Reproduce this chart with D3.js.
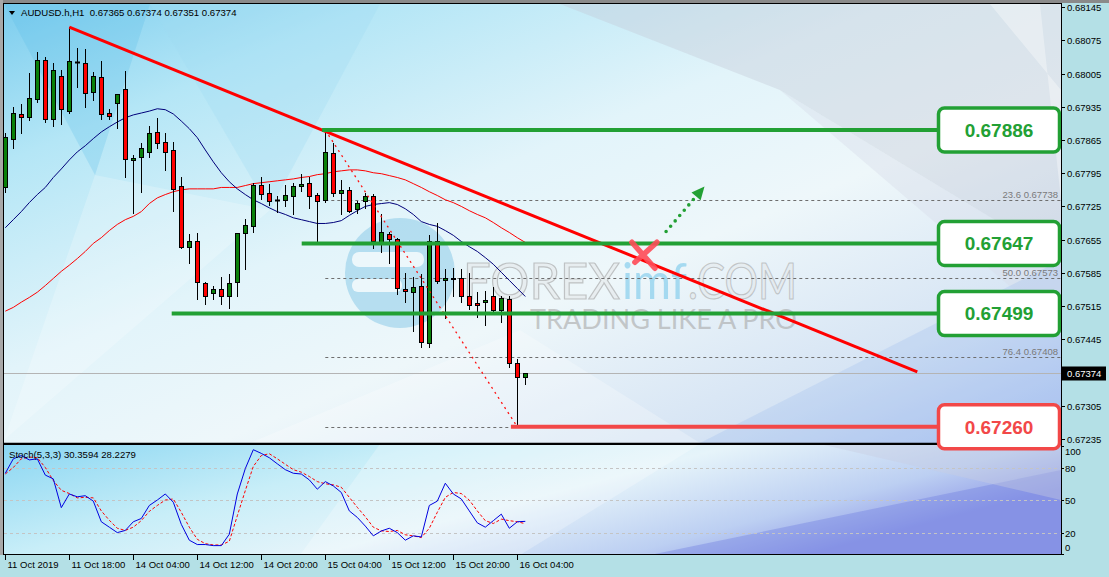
<!DOCTYPE html>
<html><head><meta charset="utf-8">
<script src="https://cdn.jsdelivr.net/npm/d3@7/dist/d3.min.js"></script>
<style>
html,body{margin:0;padding:0;background:#b4e0e6;overflow:hidden;}
svg{display:block;font-family:"Liberation Sans",Arial,sans-serif;}
text{white-space:pre;}
</style></head><body>
<svg id="c" width="1109" height="577"></svg>
<script>
// ---------------- data ----------------
const symbolTitle = "AUDUSD.h,H1  0.67365 0.67374 0.67351 0.67374";
const stochTitle = "Stoch(5,3,3) 30.3594 28.2279";
const timeLabels = ["11 Oct 2019","11 Oct 18:00","14 Oct 04:00","14 Oct 12:00","14 Oct 20:00","15 Oct 04:00","15 Oct 12:00","15 Oct 20:00","16 Oct 04:00"];
const timeLabelBars = [0,8,16,24,32,40,48,56,64];
const priceTicks = [0.68145,0.68075,0.68005,0.67935,0.67865,0.67795,0.67725,0.67655,0.67585,0.67515,0.67445,0.67305,0.67235];
const stochTicks = [100,80,50,20,0];
const stochLevels = [80,50,20];

const open  = [0.67765,0.67868,0.67920,0.67914,0.67952,0.68034,0.67910,0.68000,0.67926,0.68029,0.68027,0.67966,0.67998,0.67922,0.67943,0.67973,0.67823,0.67830,0.67840,0.67882,0.67861,0.67844,0.67767,0.67640,0.67651,0.67563,0.67542,0.67550,0.67535,0.67565,0.67668,0.67683,0.67771,0.67754,0.67738,0.67739,0.67746,0.67769,0.67775,0.67750,0.67739,0.67838,0.67754,0.67760,0.67720,0.67737,0.67746,0.67649,0.67666,0.67657,0.67550,0.67544,0.67558,0.67437,0.67651,0.67569,0.67575,0.67573,0.67535,0.67521,0.67523,0.67535,0.67506,0.67529,0.67395,0.67365];
const high  = [0.67880,0.67935,0.67941,0.68006,0.68050,0.68040,0.68027,0.68013,0.68103,0.68059,0.68057,0.68008,0.68031,0.67931,0.67962,0.68010,0.67834,0.67859,0.67895,0.67912,0.67880,0.67861,0.67786,0.67666,0.67668,0.67565,0.67558,0.67577,0.67582,0.67668,0.67699,0.67775,0.67786,0.67773,0.67746,0.67771,0.67775,0.67794,0.67788,0.67754,0.67886,0.67859,0.67781,0.67765,0.67737,0.67754,0.67752,0.67708,0.67672,0.67659,0.67584,0.67577,0.67582,0.67664,0.67689,0.67594,0.67596,0.67594,0.67584,0.67544,0.67546,0.67556,0.67535,0.67535,0.67403,0.67374];
const low   = [0.67756,0.67849,0.67880,0.67908,0.67945,0.67903,0.67895,0.67899,0.67922,0.67977,0.67935,0.67949,0.67910,0.67910,0.67891,0.67788,0.67712,0.67756,0.67830,0.67849,0.67802,0.67716,0.67638,0.67605,0.67529,0.67519,0.67529,0.67519,0.67510,0.67535,0.67594,0.67670,0.67741,0.67727,0.67714,0.67725,0.67708,0.67758,0.67722,0.67649,0.67735,0.67746,0.67708,0.67714,0.67712,0.67722,0.67638,0.67628,0.67605,0.67540,0.67523,0.67462,0.67428,0.67428,0.67563,0.67489,0.67535,0.67523,0.67508,0.67491,0.67474,0.67502,0.67481,0.67386,0.67260,0.67351];
const close = [0.67872,0.67922,0.67914,0.67954,0.68034,0.67910,0.68013,0.67931,0.68031,0.68029,0.67964,0.68000,0.67920,0.67916,0.67962,0.67825,0.67828,0.67849,0.67880,0.67859,0.67840,0.67762,0.67640,0.67651,0.67565,0.67535,0.67550,0.67537,0.67563,0.67668,0.67685,0.67771,0.67752,0.67737,0.67738,0.67750,0.67769,0.67773,0.67748,0.67737,0.67840,0.67754,0.67760,0.67716,0.67733,0.67746,0.67651,0.67670,0.67657,0.67552,0.67546,0.67556,0.67439,0.67651,0.67567,0.67573,0.67571,0.67535,0.67517,0.67517,0.67527,0.67506,0.67531,0.67395,0.67365,0.67374];

const maFast = [0.67680,0.67697,0.67714,0.67733,0.67750,0.67765,0.67786,0.67804,0.67823,0.67840,0.67853,0.67868,0.67882,0.67893,0.67903,0.67912,0.67918,0.67922,0.67926,0.67931,0.67929,0.67920,0.67905,0.67889,0.67870,0.67844,0.67819,0.67796,0.67777,0.67762,0.67750,0.67739,0.67731,0.67722,0.67714,0.67708,0.67701,0.67697,0.67693,0.67689,0.67689,0.67691,0.67695,0.67706,0.67716,0.67725,0.67729,0.67731,0.67733,0.67729,0.67720,0.67708,0.67693,0.67687,0.67683,0.67674,0.67664,0.67651,0.67640,0.67630,0.67617,0.67603,0.67586,0.67569,0.67552,0.67535];
const maSlow = [0.67504,0.67512,0.67523,0.67533,0.67544,0.67558,0.67573,0.67588,0.67601,0.67615,0.67630,0.67647,0.67659,0.67674,0.67687,0.67697,0.67704,0.67714,0.67731,0.67743,0.67750,0.67756,0.67760,0.67762,0.67762,0.67762,0.67762,0.67765,0.67765,0.67765,0.67769,0.67773,0.67775,0.67777,0.67779,0.67781,0.67783,0.67786,0.67788,0.67792,0.67794,0.67798,0.67800,0.67802,0.67802,0.67800,0.67796,0.67794,0.67790,0.67786,0.67781,0.67773,0.67765,0.67756,0.67748,0.67739,0.67733,0.67725,0.67716,0.67708,0.67701,0.67691,0.67680,0.67670,0.67659,0.67649];

const stochK = [74.7,88,91,87,88,73,69.5,43,55.6,53,54,49,30,25,20,22,30,33,45,50,55.6,48,27.6,13,9,9,8,8,18.5,55.6,79,96.4,93,89,83.4,78,74.7,74,68.6,60,67,63,57,40,34,26,17,21.5,24,20,13,17,16,45,49,65.5,55.6,51,40,29,25,31,37,24,30,30.36];
const stochD = [74,80,88,89.6,89,80,68,59,56,52,52.5,52,40,31.4,24,22,25,31,39.6,45,50,51,38.7,25,13.8,9.8,8.6,8.6,12,35.5,58.7,81,91,92.7,88,83,78,75.7,71.7,67,65,64,61.8,52.5,43.3,34.6,25,21.6,21,22,18,17,15.4,24,38.7,52.5,57,56,50,40,31,28.4,32.4,31,30,28.23];

const currentPrice = 0.67374;
// drawn objects (bar index / price anchors)
const trendBars = [8,114];
const trendPrices = [0.68103,0.67376];
const levelPrices = [0.67886,0.67647,0.67499];
const levelStartBars = [39.6,37.05,20.8];
const supportPrice = 0.67260;
const supportStartBar = 63.2;
const levelLabels = ["0.67886","0.67647","0.67499"];
const supportLabel = "0.67260";
const fibBars = [40,64];
const fibLevelNames = ["0.0","23.6","50.0","76.4","100.0"];
const fibLevelPrices = [0.67886,0.67738,0.67573,0.67408,0.67260];
const fibLabelShown = [false,true,true,true,false]; // 0.0 and 100.0 labels sit under the boxes
const crossBar = 79.7, crossPrice = 0.67622;
const arrowBars = [82.6,87.4];
const arrowPrices = [0.67672,0.67767];

// ---------------- layout ----------------
const L=4, R=1061, T=4, MB=443, ST=444, SB=555;
const GREEN="#22a034", RED="#f24848";
const svg=d3.select('#c');
const x=d3.scaleLinear().domain([0,1]).range([5.3,13.3]);
const y=d3.scaleLinear().domain([0.67235,0.68145]).range([438.7,7.3]);
const ys=d3.scaleLinear().domain([0,100]).range([554.3,445.8]);
const px=v=>Math.round(x(v));

const defs=svg.append('defs');
const gm=defs.append('linearGradient').attr('id','bgm').attr('x1',0).attr('y1',0).attr('x2',1).attr('y2',1);
[[0,'#7ccdee'],[0.18,'#b4e6f6'],[0.42,'#e2f4fa'],[0.6,'#eef7fa'],[0.82,'#d6e4f4'],[1,'#aec4f0']].forEach(s=>gm.append('stop').attr('offset',s[0]).attr('stop-color',s[1]));
const gs=defs.append('linearGradient').attr('id','bgs').attr('x1',0).attr('y1',0).attr('x2',1).attr('y2',0.4);
[[0,'#8ad6f2'],[0.35,'#c8eef8'],[0.6,'#e6f4fa'],[0.85,'#bccff2'],[1,'#949fe8']].forEach(s=>gs.append('stop').attr('offset',s[0]).attr('stop-color',s[1]));
defs.append('clipPath').attr('id','cm').append('rect').attr('x',L).attr('y',T).attr('width',R-L).attr('height',MB-T);
defs.append('clipPath').attr('id','cs').append('rect').attr('x',L).attr('y',ST).attr('width',R-L).attr('height',SB-ST);

// outer frame
svg.append('rect').attr('width',1109).attr('height',577).attr('fill','#b4e0e6');
svg.append('rect').attr('x',0).attr('y',0).attr('width',1109).attr('height',3).attr('fill','#8a8a8a');
svg.append('rect').attr('x',0).attr('y',0).attr('width',3).attr('height',SB).attr('fill','#a8a8a8');

// backgrounds
svg.append('rect').attr('x',L).attr('y',T).attr('width',R-L).attr('height',MB-T).attr('fill','url(#bgm)');
svg.append('rect').attr('x',L).attr('y',ST).attr('width',R-L).attr('height',SB-ST).attr('fill','url(#bgs)');
const deco=svg.append('g').attr('clip-path','url(#cm)');
const polys=[
 {p:[[4,4],[150,4],[95,175]],f:'#58bde6',o:0.25},
 {p:[[95,175],[270,210],[4,440]],f:'#ffffff',o:0.22},
 {p:[[150,4],[380,4],[270,210]],f:'#9fdcf2',o:0.3},
 {p:[[560,4],[1061,4],[1061,260],[780,90]],f:'#c2c8d4',o:0.38},
 {p:[[780,90],[1061,260],[1061,330]],f:'#d8dde8',o:0.4},
 {p:[[990,4],[1040,4],[1061,200],[1061,90]],f:'#ffffff',o:0.35},
 {p:[[700,443],[1061,260],[1061,443]],f:'#8cb0ee',o:0.22},
 {p:[[250,443],[520,330],[700,443]],f:'#ffffff',o:0.25}
];
deco.selectAll('polygon').data(polys).join('polygon').attr('points',d=>d.p.join(' ')).attr('fill',d=>d.f).attr('opacity',d=>d.o);
const decoS=svg.append('g').attr('clip-path','url(#cs)');
decoS.append('polygon').attr('points','380,444 700,444 520,555 300,555').attr('fill','#ffffff').attr('opacity',0.25);
decoS.append('polygon').attr('points','650,555 1061,470 1061,555').attr('fill','#7080e0').attr('opacity',0.4);
decoS.append('polygon').attr('points','820,444 1061,444 1061,500').attr('fill','#c8cce0').attr('opacity',0.4);

// watermark
const wm=svg.append('g').attr('clip-path','url(#cm)');
wm.append('circle').attr('cx',400).attr('cy',273).attr('r',55).attr('fill','#8ccbe8').attr('opacity',0.55);
wm.append('rect').attr('x',352).attr('y',252).attr('width',72).attr('height',15).attr('rx',7).attr('fill','#ffffff').attr('opacity',0.75);
wm.append('rect').attr('x',352).attr('y',279).attr('width',50).attr('height',13).attr('rx',6).attr('fill','#ffffff').attr('opacity',0.75);
wm.append('text').attr('x',463).attr('y',299).attr('font-family','Lato, "DejaVu Sans", sans-serif').attr('font-size',50).attr('textLength',157).attr('lengthAdjust','spacingAndGlyphs')
  .attr('fill','#e4e8ea').attr('fill-opacity',0.6).attr('stroke','#9a9a9a').attr('stroke-opacity',0.55).attr('stroke-width',1.2).text('FOREX');
wm.append('text').attr('x',622).attr('y',299).attr('font-family','Lato, "DejaVu Sans", sans-serif').attr('font-size',50).attr('textLength',65).attr('lengthAdjust','spacingAndGlyphs')
  .attr('fill','#6cc2ea').attr('fill-opacity',0.55).text('imf');
wm.append('text').attr('x',688).attr('y',299).attr('font-family','Lato, "DejaVu Sans", sans-serif').attr('font-size',50).attr('textLength',109).attr('lengthAdjust','spacingAndGlyphs')
  .attr('fill','#e4e8ea').attr('fill-opacity',0.55).attr('stroke','#9a9a9a').attr('stroke-opacity',0.5).attr('stroke-width',1.2).text('.COM');
wm.append('text').attr('x',530).attr('y',329).attr('font-family','Lato, "DejaVu Sans", sans-serif').attr('font-size',26).attr('textLength',267).attr('lengthAdjust','spacingAndGlyphs')
  .attr('fill','#a8a8a8').attr('fill-opacity',0.6).text('TRADING LIKE A PRO');

// main chart content
const main=svg.append('g').attr('clip-path','url(#cm)');

// fib horizontal levels
const fib=main.append('g');
fibLevelPrices.forEach((p,i)=>{
  const yy=Math.round(y(p))+0.5;
  fib.append('line').attr('x1',x(fibBars[0])).attr('x2',R).attr('y1',yy).attr('y2',yy).attr('stroke','#6e6e6e').attr('stroke-dasharray','3,3');
  if(fibLabelShown[i]) fib.append('text').attr('x',1058).attr('y',yy-3).attr('text-anchor','end').attr('font-size',9.5).attr('fill','#7a7a7a').text(fibLevelNames[i]+' '+p.toFixed(5));
});

// current price line
main.append('line').attr('x1',L).attr('x2',R).attr('y1',Math.round(y(currentPrice))+0.5).attr('y2',Math.round(y(currentPrice))+0.5).attr('stroke','#b4b4b4');

// moving averages
const idx=d3.range(open.length);
main.append('path').attr('d',d3.line().x(i=>x(i)).y(i=>y(maSlow[i]))(idx)).attr('fill','none').attr('stroke','#ff0000').attr('stroke-width',1);
main.append('path').attr('d',d3.line().x(i=>x(i)).y(i=>y(maFast[i]))(idx)).attr('fill','none').attr('stroke','#00007a').attr('stroke-width',1);

// candles
const bars=idx.map(i=>({i,o:open[i],h:high[i],l:low[i],c:close[i]}));
const cg=main.append('g');
cg.selectAll('line.w').data(bars).join('line').attr('class','w')
  .attr('x1',d=>px(d.i)+0.5).attr('x2',d=>px(d.i)+0.5).attr('y1',d=>Math.round(y(d.h))).attr('y2',d=>Math.round(y(d.l))+1).attr('stroke','#000');
cg.selectAll('rect.b').data(bars.filter(d=>d.o!==d.c)).join('rect').attr('class','b')
  .attr('x',d=>px(d.i)-1.5).attr('width',4)
  .attr('y',d=>Math.round(y(Math.max(d.o,d.c)))+0.5)
  .attr('height',d=>Math.max(1,Math.round(y(Math.min(d.o,d.c)))-Math.round(y(Math.max(d.o,d.c)))))
  .attr('fill',d=>d.c>d.o?'#0a800a':'#ff0000').attr('stroke','#000');
cg.selectAll('line.d').data(bars.filter(d=>d.o===d.c)).join('line').attr('class','d')
  .attr('x1',d=>px(d.i)-2).attr('x2',d=>px(d.i)+3).attr('y1',d=>Math.round(y(d.o))+0.5).attr('y2',d=>Math.round(y(d.o))+0.5).attr('stroke','#000').attr('stroke-width',2);

// fib diagonal
main.append('line').attr('x1',x(fibBars[0])).attr('y1',y(fibLevelPrices[0])).attr('x2',x(fibBars[1])).attr('y2',y(fibLevelPrices[4]))
  .attr('stroke','#ff1010').attr('stroke-width',1.3).attr('stroke-dasharray','2,4');

// trendline
main.append('line').attr('x1',x(trendBars[0])).attr('y1',y(trendPrices[0])).attr('x2',x(trendBars[1])).attr('y2',y(trendPrices[1]))
  .attr('stroke','#ff0000').attr('stroke-width',3);

// horizontal levels
const boxX=938.5, boxW=121, boxH=44;
levelPrices.forEach((p,i)=>{
  main.append('line').attr('x1',x(levelStartBars[i])).attr('x2',boxX).attr('y1',y(p)).attr('y2',y(p)).attr('stroke',GREEN).attr('stroke-width',4);
});
main.append('line').attr('x1',x(supportStartBar)).attr('x2',boxX).attr('y1',y(supportPrice)).attr('y2',y(supportPrice)).attr('stroke',RED).attr('stroke-width',4);

// cross mark
const cx0=x(crossBar), cy0=y(crossPrice);
main.append('path').attr('d',`M${cx0-11},${cy0-13}L${cx0+12},${cy0+13}M${cx0+14},${cy0-13}L${cx0-8},${cy0+7}`)
  .attr('stroke','#ff4c58').attr('stroke-width',5.5).attr('stroke-linecap','round').attr('opacity',0.9);

// dotted arrow
const ax1=x(arrowBars[0]), ay1=y(arrowPrices[0]), ax2=x(arrowBars[1]), ay2=y(arrowPrices[1]);
const ang=Math.atan2(ay2-ay1,ax2-ax1);
const shaftEnd=[ax2-10*Math.cos(ang), ay2-10*Math.sin(ang)];
main.append('line').attr('x1',ax1).attr('y1',ay1).attr('x2',shaftEnd[0]).attr('y2',shaftEnd[1])
  .attr('stroke',GREEN).attr('stroke-width',3.6).attr('stroke-linecap','round').attr('stroke-dasharray','0,7');
const hp=[[ax2,ay2],[ax2-13*Math.cos(ang)+6*Math.sin(ang), ay2-13*Math.sin(ang)-6*Math.cos(ang)],[ax2-13*Math.cos(ang)-6*Math.sin(ang), ay2-13*Math.sin(ang)+6*Math.cos(ang)]];
main.append('polygon').attr('points',hp.join(' ')).attr('fill',GREEN);

// header
svg.append('polygon').attr('points','9,11 15,11 12,15').attr('fill','#000');
svg.append('text').attr('x',21).attr('y',16).attr('font-size',9.6).attr('fill','#000').text(symbolTitle);

// stochastic panel
const st=svg.append('g').attr('clip-path','url(#cs)');
stochLevels.forEach(v=>{
  st.append('line').attr('x1',L).attr('x2',R).attr('y1',Math.round(ys(v))+0.5).attr('y2',Math.round(ys(v))+0.5).attr('stroke','#c4c4c4').attr('stroke-dasharray','3,3');
});
st.append('path').attr('d',d3.line().x(i=>x(i)).y(i=>ys(stochD[i]))(idx)).attr('fill','none').attr('stroke','#ff0000').attr('stroke-dasharray','3,2');
st.append('path').attr('d',d3.line().x(i=>x(i)).y(i=>ys(stochK[i]))(idx)).attr('fill','none').attr('stroke','#0000e0');
svg.append('text').attr('x',9).attr('y',458).attr('font-size',9.6).attr('fill','#000').text(stochTitle);

// frames
svg.append('rect').attr('x',L-0.5).attr('y',T-0.5).attr('width',R-L+1).attr('height',MB-T+1).attr('fill','none').attr('stroke','#000');
svg.append('rect').attr('x',L-0.5).attr('y',ST+0.5).attr('width',R-L+1).attr('height',SB-ST-1).attr('fill','none').attr('stroke','#000');
svg.append('line').attr('x1',L).attr('x2',R).attr('y1',MB+0.5).attr('y2',MB+0.5).attr('stroke','#000').attr('stroke-width',1.5);

// boxes (drawn on top)
const bx=svg.append('g');
levelPrices.forEach((p,i)=>{
  const cy=y(p);
  bx.append('rect').attr('x',boxX).attr('y',cy-boxH/2).attr('width',boxW).attr('height',boxH).attr('rx',6).attr('fill','#fff').attr('stroke',GREEN).attr('stroke-width',3.5);
  bx.append('text').attr('x',boxX+boxW/2).attr('y',cy).attr('dy','0.36em').attr('text-anchor','middle').attr('font-size',19).attr('font-weight','bold').attr('fill',GREEN).text(levelLabels[i]);
});
{
  const cy=y(supportPrice);
  bx.append('rect').attr('x',boxX).attr('y',cy-boxH/2).attr('width',boxW).attr('height',boxH).attr('rx',6).attr('fill','#fff').attr('stroke',RED).attr('stroke-width',3.5);
  bx.append('text').attr('x',boxX+boxW/2).attr('y',cy).attr('dy','0.36em').attr('text-anchor','middle').attr('font-size',19).attr('font-weight','bold').attr('fill',RED).text(supportLabel);
}

// right price axis
const ax=svg.append('g');
ax.append('line').attr('x1',R+0.5).attr('x2',R+0.5).attr('y1',T).attr('y2',SB).attr('stroke','#000');
priceTicks.forEach(p=>{
  const yy=Math.round(y(p))+0.5;
  ax.append('line').attr('x1',R).attr('x2',R+4).attr('y1',yy).attr('y2',yy).attr('stroke','#000');
  ax.append('text').attr('x',R+6).attr('y',yy).attr('dy','0.35em').attr('font-size',9.5).attr('fill','#000').text(p.toFixed(5));
});
{
  const yy=Math.round(y(currentPrice))+0.5;
  ax.append('rect').attr('x',R+1).attr('y',yy-7).attr('width',44).attr('height',14).attr('fill','#000');
  ax.append('text').attr('x',R+6).attr('y',yy).attr('dy','0.35em').attr('font-size',9.5).attr('fill','#fff').text(currentPrice.toFixed(5));
}
stochTicks.forEach(v=>{
  const yy=Math.round(ys(v))+0.5;
  const ty=Math.max(452,Math.min(548,yy));
  ax.append('line').attr('x1',R).attr('x2',R+3).attr('y1',yy).attr('y2',yy).attr('stroke','#000');
  ax.append('text').attr('x',R+4).attr('y',ty).attr('dy','0.35em').attr('font-size',9.5).attr('fill','#000').text(v);
});

// time axis
timeLabels.forEach((t,i)=>{
  const xx=px(timeLabelBars[i])+0.5;
  ax.append('line').attr('x1',xx).attr('x2',xx).attr('y1',SB).attr('y2',SB+5).attr('stroke','#000');
  ax.append('text').attr('x',xx+2).attr('y',568).attr('font-size',9.5).attr('fill','#000').text(t);
});
</script>
</body></html>
